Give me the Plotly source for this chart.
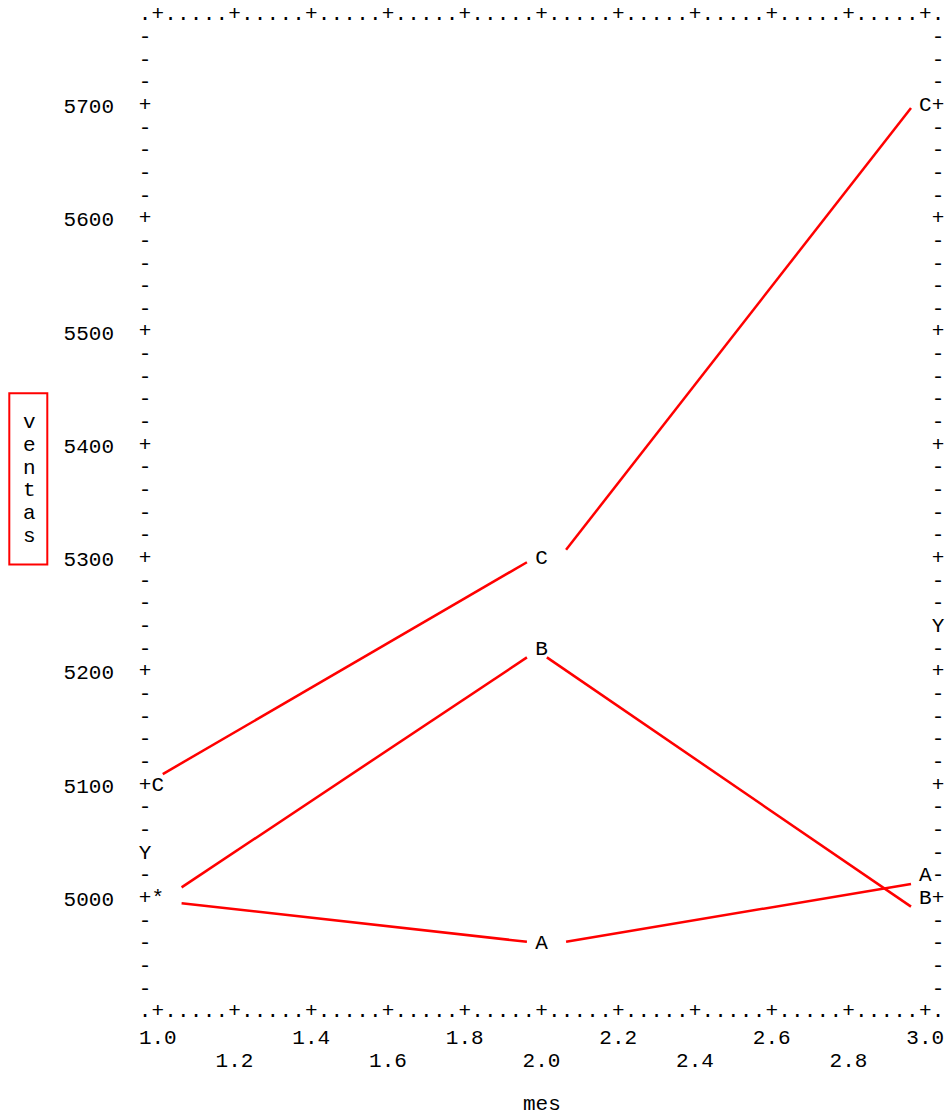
import plotly.graph_objects as go

# ---------------- data ----------------
meses = [1, 2, 3]
ventas_A = [5000, 4960, 5020]
ventas_B = [5000, 5220, 5000]
ventas_C = [5100, 5300, 5700]
simbolos = ["A", "B", "C"]

# red overlay strokes (end points)
trazo_A_mes = [1.062, 1.962, None, 2.064, 2.963]
trazo_A_ventas = [4996, 4962, None, 4962, 5013]
trazo_B_mes = [1.062, 1.962, None, 2.014, 2.963]
trazo_B_ventas = [5010, 5213, None, 5213, 4993]
trazo_C_mes = [1.013, 1.962, None, 2.064, 2.963]
trazo_C_ventas = [5110, 5297, None, 5308, 5698]

y_ticks = [5000, 5100, 5200, 5300, 5400, 5500, 5600, 5700]
y_tick_labels = ["5000", "5100", "5200", "5300", "5400", "5500", "5600", "5700"]
x_ticks_fila1 = [1.0, 1.4, 1.8, 2.2, 2.6, 3.0]
x_labels_fila1 = ["1.0", "1.4", "1.8", "2.2", "2.6", "3.0"]
x_ticks_fila2 = [1.2, 1.6, 2.0, 2.4, 2.8]
x_labels_fila2 = ["1.2", "1.6", "2.0", "2.4", "2.8"]
titulo_x = "mes"
titulo_y = "ventas"
marca_Y_izq = 5040   # 'Y' printed on the left vertical axis
marca_Y_der = 5240   # 'Y' printed on the right vertical axis

# ---------------- character grid of the line-printer plot ----------------
COL = 1.0 / 30.0      # one character column in x units
ROW = 20.0            # one character row in y units
N_COL = 62
N_ROW = 44
X0 = 1.0 - COL        # column 0 (left frame)
Y0 = 5780.0           # row 0 (top frame)

W, H = 948, 1115
ML, MR, MT, MB = 145, 10, 15, 103
PLOT_W = W - ML - MR


def cx(k):
    return X0 + k * COL


def ry(r):
    return Y0 - r * ROW


def paper_x(px):
    return (px - ML) / PLOT_W


FONT = "Liberation Mono, Courier New, monospace"
FS = 21
INK = "#000000"

fx, fy, ft = [], [], []
# horizontal frame rows (top and bottom)
for r in (0, N_ROW):
    for k in range(N_COL + 1):
        if k in (0, N_COL):
            ch = "."
        elif (k - 1) % 6 == 0:
            ch = "+"
        else:
            ch = "."
        fx.append(cx(k)); fy.append(ry(r)); ft.append(ch)
# vertical frame columns
for k, special in ((0, marca_Y_izq), (N_COL, marca_Y_der)):
    for r in range(1, N_ROW):
        yv = ry(r)
        if abs(yv - special) < 1e-6:
            ch = "Y"
        elif abs((yv - 5000) % 100) < 1e-6:
            ch = "+"
        else:
            ch = "-"
        fx.append(cx(k)); fy.append(yv); ft.append(ch)

# plotted symbols (collisions shown as '*')
puntos = {}
for sym, serie in zip(simbolos, [ventas_A, ventas_B, ventas_C]):
    for m, v in zip(meses, serie):
        puntos.setdefault((m, v), []).append(sym)
px_, py_, pt_ = [], [], []
for (m, v), syms in puntos.items():
    px_.append(m); py_.append(v); pt_.append(syms[0] if len(syms) == 1 else "*")

fig = go.Figure()

for xs, ys in ((trazo_A_mes, trazo_A_ventas), (trazo_B_mes, trazo_B_ventas),
               (trazo_C_mes, trazo_C_ventas)):
    fig.add_trace(go.Scatter(x=xs, y=ys, mode="lines", connectgaps=False,
                             line=dict(color="#ff0000", width=2.5),
                             hoverinfo="skip", showlegend=False, cliponaxis=False))

fig.add_trace(go.Scatter(x=fx, y=fy, text=ft, mode="text", textposition="middle center",
                         textfont=dict(family=FONT, size=FS, color=INK),
                         hoverinfo="skip", showlegend=False, cliponaxis=False))
fig.add_trace(go.Scatter(x=px_, y=py_, text=pt_, mode="text", textposition="middle center",
                         textfont=dict(family=FONT, size=FS, color=INK),
                         hoverinfo="skip", showlegend=False, cliponaxis=False))
# dummy trace to materialise the second x axis (second row of tick labels)
fig.add_trace(go.Scatter(x=[2.0], y=[5400], mode="markers", marker=dict(opacity=0),
                         xaxis="x2", hoverinfo="skip", showlegend=False))

# vertical axis label: one letter per printer row, in a red box
annotations = []
for i, ch in enumerate(titulo_y):
    annotations.append(dict(text=ch, xref="paper", x=paper_x(30), yref="y", y=ry(18 + i),
                            xanchor="center", yanchor="middle", showarrow=False,
                            font=dict(family=FONT, size=FS, color=INK)))
annotations.append(dict(text=titulo_x, xref="x", x=2.0, yref="paper", y=0,
                        yanchor="middle", xanchor="center", yshift=-92, showarrow=False,
                        font=dict(family=FONT, size=FS, color=INK)))

fig.add_shape(type="rect", xref="paper", yref="y",
              x0=paper_x(9.3), x1=paper_x(47.3), y0=5295.0, y1=5446.2,
              line=dict(color="#ff0000", width=2), fillcolor="rgba(0,0,0,0)")

axis_common = dict(showgrid=False, zeroline=False, showline=False, ticks="",
                   automargin=False,
                   tickfont=dict(family=FONT, size=FS, color=INK), fixedrange=True)

fig.update_layout(
    width=W, height=H,
    margin=dict(l=ML, r=MR, t=MT, b=MB, pad=0, autoexpand=False),
    paper_bgcolor="white", plot_bgcolor="white",
    hovermode=False,
    font=dict(family=FONT, size=FS, color=INK),
    xaxis=dict(range=[cx(0), cx(N_COL)], tickmode="array", tickvals=x_ticks_fila1,
               ticktext=x_labels_fila1, ticklabelstandoff=10, **axis_common),
    xaxis2=dict(range=[cx(0), cx(N_COL)], tickmode="array", tickvals=x_ticks_fila2,
                ticktext=x_labels_fila2, overlaying="x", anchor="y", side="bottom",
                ticklabelstandoff=33, **axis_common),
    yaxis=dict(range=[ry(N_ROW), ry(0)], tickmode="array", tickvals=y_ticks,
               ticktext=y_tick_labels, ticklabelstandoff=30, **axis_common),
    annotations=annotations,
)

fig.write_html("out.html")
